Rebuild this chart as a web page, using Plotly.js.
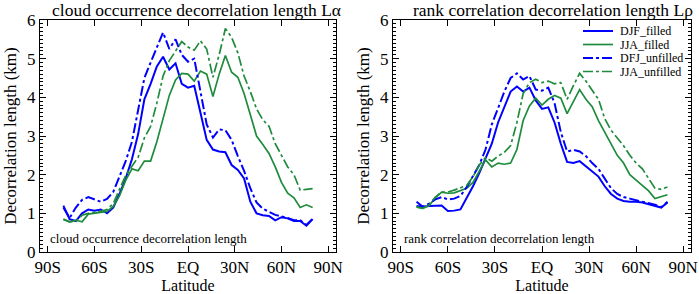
<!DOCTYPE html>
<html><head><meta charset="utf-8">
<script src="https://cdn.plot.ly/plotly-3.0.1.min.js"></script>
<style>html,body{margin:0;padding:0;background:#fff}#chart{width:699px;height:294px}</style>
</head><body><div id="chart"></div>
<script>
// Latitude grid (degrees, negative = south)
const latitude = [-80,-76,-72,-68,-64,-60,-56,-52,-48,-44,-40,-36,-32,-28,-24,-20,-16,-12,-8,-4,0,4,8,12,16,20,24,28,32,36,40,44,48,52,56,60,64,68,72,76,80];

// Left panel: cloud occurrence decorrelation length (km)
const alphaDJFfilled = [1.2,0.85,0.8,1.0,1.1,1.07,1.1,1.0,1.15,1.5,1.9,2.4,3.05,3.95,4.35,4.8,5.05,4.72,4.88,4.35,4.25,4.3,3.6,2.9,2.65,2.6,2.58,2.25,2.12,1.9,1.3,1.0,0.95,0.93,0.82,0.9,0.87,0.8,0.8,0.68,0.85];
const alphaJJAfilled = [0.84,0.78,0.82,0.78,0.98,1.0,1.02,1.05,1.18,1.45,1.85,2.15,2.1,2.35,2.35,2.85,3.45,4.05,4.45,4.62,4.6,4.42,4.68,4.6,4.02,4.6,5.08,4.65,4.52,4.1,3.55,3.0,2.78,2.55,2.2,1.8,1.52,1.4,1.15,1.22,1.15];
const alphaDJFunfilled = [1.15,0.88,1.15,1.35,1.42,1.35,1.3,1.37,1.55,1.95,2.35,2.85,3.65,4.5,4.9,5.3,5.68,5.25,5.5,5.1,4.92,5.0,4.1,3.3,2.96,3.17,3.15,2.9,2.48,2.1,1.65,1.28,1.12,1.05,0.96,0.92,0.88,0.82,0.82,0.7,0.86];
const alphaJJAunfilled = [0.85,0.78,0.8,0.95,1.0,1.02,1.05,1.1,1.25,1.62,1.98,2.22,2.45,2.95,3.25,3.85,4.55,4.95,5.2,5.44,5.3,5.22,5.46,5.25,4.52,5.1,5.78,5.55,5.15,4.55,4.15,3.7,3.42,3.25,2.8,2.5,2.2,2.0,1.6,1.62,1.64];

// Right panel: rank correlation decorrelation length (km)
const rhoDJFfilled = [1.19,1.17,1.19,1.2,1.2,1.06,1.07,1.1,1.4,1.7,2.04,2.4,2.8,3.35,3.75,4.15,4.28,4.15,4.25,3.92,3.7,3.74,3.35,2.8,2.33,2.3,2.35,2.22,2.1,1.95,1.7,1.5,1.38,1.32,1.3,1.3,1.28,1.24,1.2,1.15,1.28];
const rhoJJAfilled = [1.16,1.13,1.2,1.4,1.55,1.52,1.53,1.58,1.65,1.8,2.1,2.38,2.2,2.3,2.27,2.3,2.65,3.4,3.78,3.98,3.8,3.95,4.05,3.98,3.58,3.9,4.2,3.95,3.76,3.4,3.1,2.78,2.5,2.3,2.0,1.86,1.72,1.58,1.38,1.42,1.48];
const rhoDJFunfilled = [1.3,1.17,1.25,1.36,1.42,1.36,1.38,1.45,1.68,1.95,2.25,2.65,3.3,3.72,4.15,4.5,4.62,4.46,4.55,4.2,4.17,4.25,3.85,3.1,2.6,2.64,2.6,2.48,2.3,2.15,1.9,1.65,1.5,1.42,1.38,1.34,1.3,1.25,1.22,1.16,1.3];
const rhoJJAunfilled = [1.17,1.13,1.22,1.42,1.55,1.55,1.6,1.65,1.72,1.95,2.25,2.44,2.35,2.48,2.58,2.75,3.35,4.1,4.38,4.47,4.38,4.42,4.35,4.38,3.95,4.3,4.62,4.42,4.2,3.95,3.45,3.15,2.95,2.75,2.5,2.3,2.15,1.9,1.65,1.62,1.68];

const tickVals = [-90,-60,-30,0,30,60,90];
const tickText = ['90S','60S','30S','EQ','30N','60N','90N'];
const seriesNames = ['DJF_filled','JJA_filled','DFJ_unfilled','JJA_unfilled'];

const BLUE = '#0000ff';
const GREEN = '#1e8c3c';
const DASHDOT = '10px,3px,3px,3px';
const styles = [
  {color: BLUE, width: 2, dash: 'solid'},
  {color: GREEN, width: 1.7, dash: 'solid'},
  {color: BLUE, width: 2, dash: DASHDOT},
  {color: GREEN, width: 1.7, dash: DASHDOT}
];

const leftSeries = [alphaDJFfilled, alphaJJAfilled, alphaDJFunfilled, alphaJJAunfilled];
const rightSeries = [rhoDJFfilled, rhoJJAfilled, rhoDJFunfilled, rhoJJAunfilled];

const traces = [];
leftSeries.forEach((ys, i) => traces.push({
  x: latitude, y: ys, type: 'scatter', mode: 'lines', name: seriesNames[i],
  line: styles[i], xaxis: 'x', yaxis: 'y', showlegend: false
}));
rightSeries.forEach((ys, i) => traces.push({
  x: latitude, y: ys, type: 'scatter', mode: 'lines', name: seriesNames[i],
  line: styles[i], xaxis: 'x2', yaxis: 'y2', showlegend: false
}));

const FONT = 'Liberation Serif, Times New Roman, serif';
function xAxis(domain, anchor) {
  return {
    domain: domain, anchor: anchor, range: [-95, 95],
    tickmode: 'array', tickvals: tickVals, ticktext: tickText,
    ticks: 'inside', ticklen: 6, tickcolor: '#000', tickwidth: 1,
    showline: true, linecolor: '#000', linewidth: 1, mirror: 'ticks',
    showgrid: false, zeroline: false,
    tickfont: {family: FONT, size: 17, color: '#000'},
    title: {text: 'Latitude', font: {family: FONT, size: 16, color: '#000'}, standoff: 2},
    automargin: false
  };
}
function yAxis(anchor) {
  return {
    anchor: anchor, range: [0, 6], dtick: 1, tick0: 0,
    ticks: 'inside', ticklen: 6, tickcolor: '#000', tickwidth: 1,
    minor: {dtick: 0.1, ticklen: 3, ticks: 'inside', tickcolor: '#000', tickwidth: 1, showgrid: false},
    showline: true, linecolor: '#000', linewidth: 1, mirror: 'ticks',
    showgrid: false, zeroline: false,
    tickfont: {family: FONT, size: 17, color: '#000'},
    title: {text: 'Decorrelation length (km)', font: {family: FONT, size: 17, color: '#000'}, standoff: 6},
    automargin: false
  };
}

const PW = 651; // plot-area width in px (699 - 40 - 8)
const px = v => (v - 40) / PW;          // page x -> paper x
const py = v => (252 - v) / 232;        // page y -> paper y

const annotations = [
  {text: 'cloud occurrence decorrelation length L\u03b1', x: px(196), y: py(10), xref: 'paper', yref: 'paper',
   xanchor: 'center', yanchor: 'middle', showarrow: false, font: {family: FONT, size: 17.5, color: '#000'}},
  {text: 'rank correlation decorrelation length L\u03c1', x: px(553), y: py(10), xref: 'paper', yref: 'paper',
   xanchor: 'center', yanchor: 'middle', showarrow: false, font: {family: FONT, size: 17.5, color: '#000'}},
  {text: 'cloud occurrence decorrelation length', x: px(48), y: py(238), xref: 'paper', yref: 'paper',
   xanchor: 'left', yanchor: 'middle', showarrow: false, font: {family: FONT, size: 13, color: '#000'}},
  {text: 'rank correlation decorrelation length', x: px(402), y: py(238), xref: 'paper', yref: 'paper',
   xanchor: 'left', yanchor: 'middle', showarrow: false, font: {family: FONT, size: 13, color: '#000'}}
];
const shapes = [];
const legendY = [31, 44.5, 58, 71.5];
seriesNames.forEach((nm, i) => {
  shapes.push({type: 'line', xref: 'paper', yref: 'paper', x0: px(583), x1: px(613), y0: py(legendY[i]), y1: py(legendY[i]),
    line: {color: styles[i].color, width: styles[i].width, dash: styles[i].dash}});
  annotations.push({text: nm, x: px(619), y: py(legendY[i]), xref: 'paper', yref: 'paper',
    xanchor: 'left', yanchor: 'middle', showarrow: false, borderpad: 0,
    font: {family: FONT, size: 12, color: '#000'}});
});

const layout = {
  width: 699, height: 294,
  margin: {l: 40, r: 8, t: 20, b: 42},
  paper_bgcolor: '#fff', plot_bgcolor: '#fff',
  showlegend: false,
  font: {family: FONT, color: '#000'},
  xaxis: xAxis([0, px(336)], 'y'),
  yaxis: yAxis('x'),
  xaxis2: xAxis([px(393), 1], 'y2'),
  yaxis2: yAxis('x2'),
  annotations: annotations,
  shapes: shapes
};

Plotly.newPlot('chart', traces, layout, {staticPlot: true, displayModeBar: false});
</script>
</body></html>
